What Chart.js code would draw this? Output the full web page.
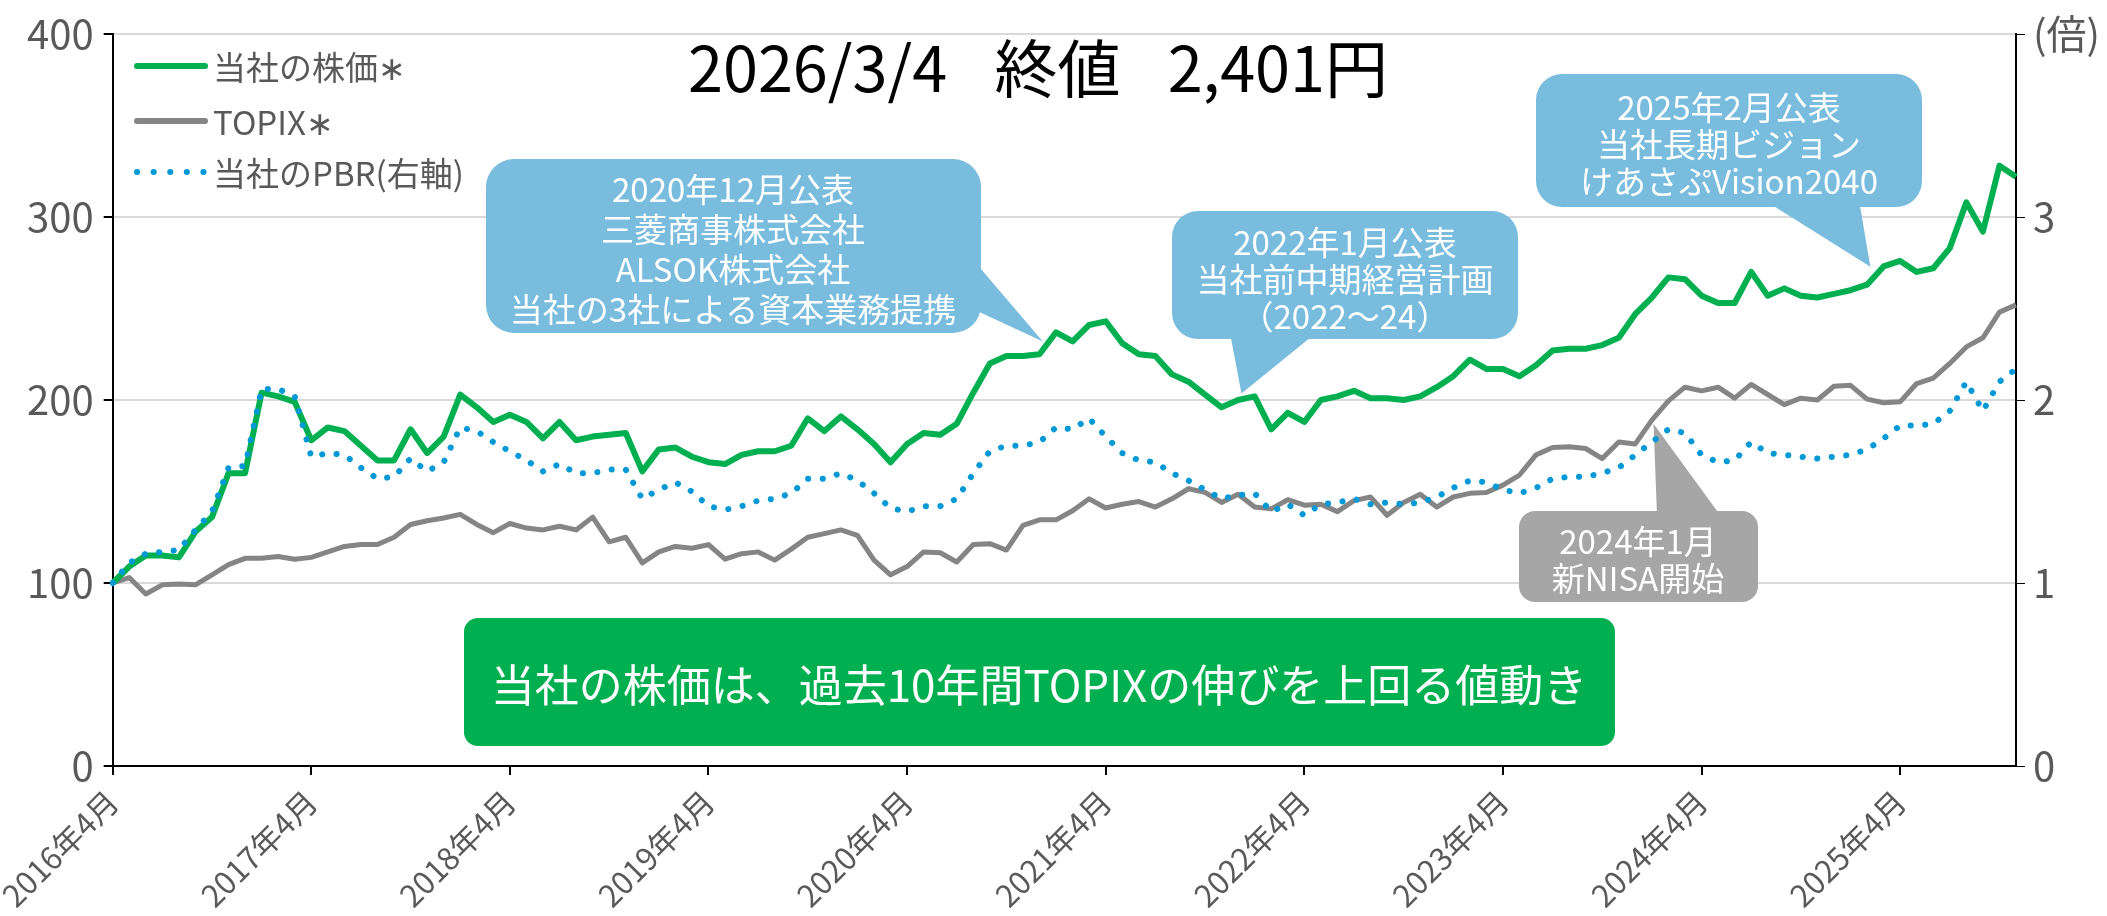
<!DOCTYPE html>
<html lang="ja">
<head>
<meta charset="utf-8">
<title>当社の株価とTOPIX</title>
<script src="https://cdn.jsdelivr.net/npm/chart.js@4.4.1/dist/chart.umd.min.js"></script>
<style>
  html, body { margin: 0; padding: 0; background: #fff; }
  #wrap { position: relative; width: 2107px; height: 916px; overflow: hidden;
          font-family: "Noto Sans CJK JP", "Noto Sans", sans-serif; }
  #chart { position: absolute; left: 0; top: 0; }
  .lbl { position: absolute; white-space: pre; transform: translate(-50%, -50%); text-align: center; }
  .leg { position: absolute; white-space: nowrap; transform: translateY(-50%); color: #595959; font-size: 33px; }
  .note { color: #fff; font-size: 33px; line-height: 40px; }
  .gap { display: inline-block; width: 0.75em; }
</style>
</head>
<body>
<div id="wrap">
  <canvas id="chart" width="2107" height="916"></canvas>
  <div class="lbl" style="left:1038px; top:64px; font-size:63px; color:#000;">2026/3/4<span class="gap"></span>終値<span class="gap"></span>2,401円</div>
  <div class="leg" style="left:213px; top:66px;">当社の株価∗</div>
  <div class="leg" style="left:213px; top:121px;">TOPIX∗</div>
  <div class="leg" style="left:213px; top:172px;">当社のPBR(右軸)</div>
  <div class="lbl note" style="left:733px; top:248px;">2020年12月公表<br>三菱商事株式会社<br>ALSOK株式会社<br>当社の3社による資本業務提携</div>
  <div class="lbl note" style="left:1345px; top:278px; line-height:37px;">2022年1月公表<br>当社前中期経営計画<br>（2022～24）</div>
  <div class="lbl note" style="left:1729px; top:143px; line-height:37px;">2025年2月公表<br>当社長期ビジョン<br>けあさぷVision2040</div>
  <div class="lbl note" style="left:1638px; top:559px; line-height:37px;">2024年1月<br>新NISA開始</div>
  <div class="lbl" style="left:1039px; top:683px; font-size:44px; color:#fff;">当社の株価は、過去10年間TOPIXの伸びを上回る値動き</div>
</div>
<script>
// 2016年4月 = 100 とした指数（月次）、PBRは右軸（倍）
var stockIndex = [
  100, 109, 115, 115, 114, 128, 136, 160, 160, 204, 202, 199,
  178, 185, 183, 175, 167, 167, 184, 171, 180, 203, 196, 188,
  192, 188, 179, 188, 178, 180, 181, 182, 161, 173, 174, 169,
  166, 165, 170, 172, 172, 175, 190, 183, 191, 184, 176, 166,
  176, 182, 181, 187, 204, 220, 224, 224, 225, 237, 232, 241,
  243, 231, 225, 224, 214, 210, 203, 196, 200, 202, 184, 193,
  188, 200, 202, 205, 201, 201, 200, 202, 207, 213, 222, 217,
  217, 213, 219, 227, 228, 228, 230, 234, 247, 256, 267, 266,
  257, 253, 253, 270, 257, 261, 257, 256, 258, 260, 263, 273,
  276, 270, 272, 283, 308, 292, 328, 322
];
var topixIndex = [
  100, 103, 94, 99, 99.5, 99, 104.5, 110, 113.5, 113.5, 114.5, 113,
  114, 117, 120, 121, 121, 125, 132, 134, 135.5, 137.5, 132, 127.5,
  132.5, 130, 129, 131, 129, 136, 122.5, 125, 111, 117, 120, 119,
  121, 113, 116, 117, 112.5, 118.5, 125, 127, 129, 126, 112.5, 104.5,
  109, 117, 116.5, 111.5, 121, 121.5, 118, 131.5, 134.5, 134.5, 139.5, 146,
  141, 143, 144.5, 141.5, 146, 151.5, 149.5, 144, 148.5, 141.5, 140.5, 145.5,
  142.5, 143, 139, 145, 147, 137, 144, 148.5, 141.5, 147, 149, 149.5,
  153.5, 159, 170, 174, 174.5, 173.5, 168, 177, 176, 189, 199.5, 207,
  205, 207, 201, 208.5, 203, 197.5, 201, 200, 207.5, 208, 200.5, 198.5,
  199, 209, 212, 220, 229, 234, 248, 252
];
var pbr = [
  1.00, 1.11, 1.16, 1.17, 1.18, 1.29, 1.39, 1.63, 1.64, 2.06, 2.06, 2.02,
  1.69, 1.71, 1.70, 1.63, 1.57, 1.58, 1.68, 1.61, 1.66, 1.85, 1.83, 1.77,
  1.72, 1.67, 1.61, 1.65, 1.60, 1.60, 1.62, 1.62, 1.46, 1.51, 1.55, 1.50,
  1.42, 1.40, 1.42, 1.45, 1.46, 1.49, 1.57, 1.57, 1.60, 1.56, 1.49, 1.41,
  1.39, 1.42, 1.42, 1.46, 1.60, 1.72, 1.75, 1.75, 1.77, 1.85, 1.84, 1.90,
  1.80, 1.71, 1.67, 1.66, 1.60, 1.56, 1.51, 1.46, 1.48, 1.49, 1.39, 1.43,
  1.37, 1.43, 1.44, 1.46, 1.43, 1.44, 1.43, 1.44, 1.47, 1.52, 1.56, 1.55,
  1.51, 1.49, 1.52, 1.57, 1.58, 1.58, 1.60, 1.63, 1.70, 1.77, 1.84, 1.82,
  1.70, 1.66, 1.67, 1.77, 1.71, 1.70, 1.69, 1.68, 1.69, 1.70, 1.73, 1.79,
  1.86, 1.86, 1.87, 1.94, 2.10, 1.94, 2.10, 2.17
];
var leftTicks = [0, 100, 200, 300, 400];
var rightTicks = [0, 1, 2, 3, 4];

// 月ラベル（2016年4月〜）
var monthLabels = [];
for (var i = 0; i < stockIndex.length; i++) {
  var m = 3 + i;
  monthLabels.push((2016 + Math.floor(m / 12)) + "年" + (m % 12 + 1) + "月");
}

var FONT = '"Noto Sans CJK JP", "Noto Sans", sans-serif';
Chart.defaults.font.family = FONT;

// 吹き出し: 箱(px) と、先端は [月index, 左軸の値]
var notes = [
  { box: [486, 159, 495, 174], r: 28, color: "#79bcde", base: [[975, 262], [975, 310]], tip: [56.2, 232] },
  { box: [1172, 211, 346, 128], r: 26, color: "#79bcde", base: [[1230, 333], [1316, 333]], tip: [68.2, 203.5] },
  { box: [1536, 74, 386, 133], r: 26, color: "#79bcde", base: [[1764, 200], [1859, 200]], tip: [106.2, 272.8] },
  { box: [1519, 511, 239, 91], r: 16, color: "#a6a6a6", base: [[1657, 515], [1720, 515]], tip: [93.1, 187] }
];

function roundRect(ctx, x, y, w, h, r) {
  ctx.beginPath();
  ctx.moveTo(x + r, y);
  ctx.arcTo(x + w, y, x + w, y + h, r);
  ctx.arcTo(x + w, y + h, x, y + h, r);
  ctx.arcTo(x, y + h, x, y, r);
  ctx.arcTo(x, y, x + w, y, r);
  ctx.closePath();
}

var calloutPlugin = {
  id: "callouts",
  beforeDatasetsDraw: function (chart) {
    var ctx = chart.ctx, xs = chart.scales.x, ys = chart.scales.y;
    ctx.save();
    // 緑のメッセージ帯
    ctx.fillStyle = "#00b050";
    roundRect(ctx, 464, 618, 1151, 128, 14);
    ctx.fill();
    notes.forEach(function (n) {
      ctx.fillStyle = n.color;
      roundRect(ctx, n.box[0], n.box[1], n.box[2], n.box[3], n.r);
      ctx.fill();
      ctx.beginPath();
      ctx.moveTo(n.base[0][0], n.base[0][1]);
      ctx.lineTo(xs.getPixelForValue(n.tip[0]), ys.getPixelForValue(n.tip[1]));
      ctx.lineTo(n.base[1][0], n.base[1][1]);
      ctx.closePath();
      ctx.fill();
    });
    ctx.restore();
  },
  afterDatasetsDraw: function (chart) {
    // 凡例の線
    var ctx = chart.ctx;
    ctx.save();
    ctx.lineCap = "round";
    ctx.lineWidth = 6;
    ctx.strokeStyle = "#00b050";
    ctx.beginPath(); ctx.moveTo(137, 66); ctx.lineTo(205, 66); ctx.stroke();
    ctx.strokeStyle = "#858585";
    ctx.beginPath(); ctx.moveTo(137, 121); ctx.lineTo(205, 121); ctx.stroke();
    ctx.strokeStyle = "#0099d6";
    ctx.setLineDash([0.1, 16.5]);
    ctx.beginPath(); ctx.moveTo(137, 172); ctx.lineTo(206, 172); ctx.stroke();
    ctx.restore();
  }
};

var ctx = document.getElementById("chart").getContext("2d");
var myChart = new Chart(ctx, {
  type: "line",
  data: {
    labels: monthLabels,
    datasets: [
      {
        label: "当社のPBR(右軸)",
        data: pbr,
        yAxisID: "y1",
        borderColor: "#0099d6",
        borderWidth: 6,
        borderDash: [0.1, 14.5],
        borderCapStyle: "round",
        pointRadius: 0,
        tension: 0,
        order: 0
      },
      {
        label: "当社の株価∗",
        data: stockIndex,
        yAxisID: "y",
        borderColor: "#00b050",
        borderWidth: 6,
        borderJoinStyle: "round",
        pointRadius: 0,
        tension: 0,
        order: 1
      },
      {
        label: "TOPIX∗",
        data: topixIndex,
        yAxisID: "y",
        borderColor: "#858585",
        borderWidth: 5,
        borderJoinStyle: "round",
        pointRadius: 0,
        tension: 0,
        order: 2
      }
    ]
  },
  options: {
    responsive: false,
    animation: false,
    devicePixelRatio: 1,
    layout: { padding: { top: 27, left: 0, right: 0, bottom: 0 } },
    plugins: { legend: { display: false }, tooltip: { enabled: false } },
    scales: {
      x: {
        type: "category",
        offset: false,
        grid: { drawOnChartArea: false, drawTicks: true, tickLength: 9, tickColor: "#000", lineWidth: 2 },
        border: { color: "#000", width: 2 },
        ticks: { autoSkip: false, maxRotation: 45, minRotation: 45, color: "#595959", font: { size: 31 }, padding: 8 },
        afterBuildTicks: function (s) {
          s.ticks = s.ticks.filter(function (t) { return t.value % 12 === 0; });
        },
        afterFit: function (s) { s.height = 150; }
      },
      y: {
        position: "left",
        min: leftTicks[0],
        max: leftTicks[leftTicks.length - 1],
        afterBuildTicks: function (s) { s.ticks = leftTicks.map(function (v) { return { value: v }; }); },
        grid: { color: "#d9d9d9", lineWidth: 2, tickColor: "#000", tickLength: 9 },
        border: { color: "#000", width: 2 },
        ticks: { color: "#595959", font: { size: 40 }, padding: 10 },
        afterFit: function (s) { s.width = 111; }
      },
      y1: {
        position: "right",
        min: rightTicks[0],
        max: rightTicks[rightTicks.length - 1],
        afterBuildTicks: function (s) { s.ticks = rightTicks.map(function (v) { return { value: v }; }); },
        grid: { drawOnChartArea: false, tickColor: "#000", tickLength: 9 },
        border: { color: "#000", width: 2 },
        ticks: {
          color: "#595959", font: { size: 40 }, padding: 8,
          callback: function (v) { return v === 4 ? "(倍)" : v; }
        },
        afterFit: function (s) { s.width = 91; }
      }
    }
  },
  plugins: [calloutPlugin]
});
</script>
</body>
</html>
